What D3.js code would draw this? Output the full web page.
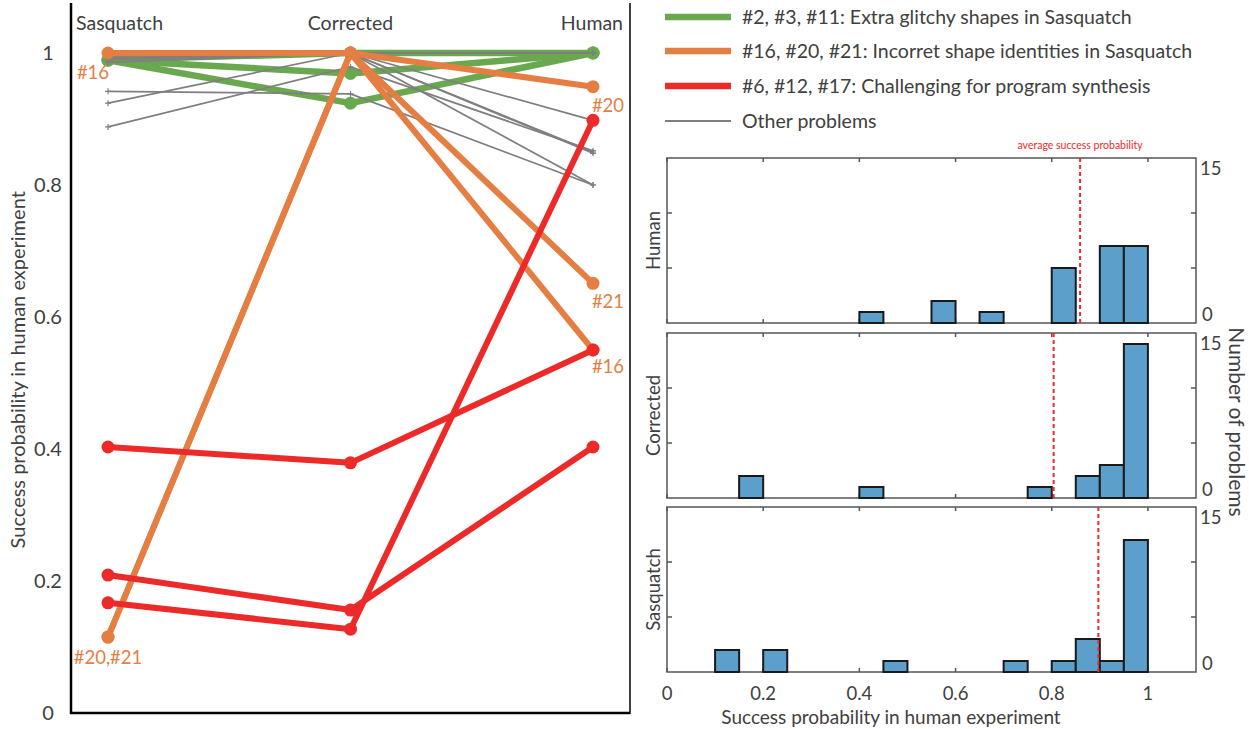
<!DOCTYPE html>
<html>
  <head>
    <meta charset="utf-8">
    <script src="https://cdn.jsdelivr.net/npm/d3@7"></script>
    <style>
      body {
        margin: 0;
        background: #fff;
      }
      text {
        font-family: Lato, "Open Sans", sans-serif;
        fill: #404040;
      }
    </style>
  </head>
<body>
  <script type="text/javascript">
    /*
      Data
    */
    var stages = ["Sasquatch", "Corrected", "Human"];

    // success probability per stage: [Sasquatch, Corrected, Human]
    var greenProblems = [
      [0.990, 1.000, 1.000],
      [0.989, 0.969, 1.000],
      [0.989, 0.924, 1.000]
    ];
    var grayProblems = [
      [0.942, 0.938, 0.800],
      [0.924, 1.000, 0.850],
      [0.888, 0.979, 0.852],
      [0.996, 1.000, 0.898],
      [0.992, 1.000, 0.848],
      [0.986, 1.000, 0.800],
      [1.000, 1.000, 1.000],
      [0.996, 1.000, 1.000],
      [0.992, 1.000, 1.000],
      [0.986, 1.000, 1.000],
      [1.000, 1.000, 1.000],
      [0.990, 1.000, 1.000]
    ];
    var orangeProblems = [   // #16, #20, #21
      [1.000, 1.000, 0.550],
      [0.115, 1.000, 0.949],
      [0.115, 1.000, 0.651]
    ];
    var redProblems = [      // #6, #12, #17
      [0.403, 0.379, 0.550],
      [0.209, 0.156, 0.403],
      [0.167, 0.127, 0.898]
    ];

    var legendLabels = [
      "#2, #3, #11: Extra glitchy shapes in Sasquatch",
      "#16, #20, #21: Incorret shape identities in Sasquatch",
      "#6, #12, #17: Challenging for program synthesis",
      "Other problems"
    ];

    // histograms, 0.05 wide bins from 0 to 1
    var binEdges = [0, 0.05, 0.1, 0.15, 0.2, 0.25, 0.3, 0.35, 0.4, 0.45, 0.5,
                    0.55, 0.6, 0.65, 0.7, 0.75, 0.8, 0.85, 0.9, 0.95, 1];
    var histNames = ["Human", "Corrected", "Sasquatch"];
    var humanCounts     = [0,0,0,0,0,0,0,0,1,0,0,2,0,1,0,0,5,0,7,7];
    var correctedCounts = [0,0,0,2,0,0,0,0,1,0,0,0,0,0,0,1,0,2,3,14];
    var sasquatchCounts = [0,0,2,0,2,0,0,0,0,1,0,0,0,0,1,0,1,3,1,12];
    var histAverages = [0.859, 0.804, 0.897];
    var histXTicks = [0, 0.2, 0.4, 0.6, 0.8, 1];
    var histYTicks = [0, 5, 10, 15];
    var leftYTicks = [0, 0.2, 0.4, 0.6, 0.8, 1];

    var GREEN = "#6aa84f", ORANGE = "#e57e43", RED = "#ec2a2a",
        GRAY = "#7f7f7f", BLUE = "#5b9fca";

    var svg = d3.select("body")
        .append("svg")
        .attr("width", 1249)
        .attr("height", 729);

    /*
      Left panel: slope chart
    */
    var x = d3.scalePoint().domain(stages).range([108, 593]);
    var y = d3.scaleLinear().domain([0, 1]).range([713, 53]);
    var line = d3.line()
        .x(function(d, i) { return x(stages[i]); })
        .y(function(d) { return y(d); });

    var left = svg.append("g");

    left.append("text")
        .attr("x", 76).attr("y", 30)
        .style("font-size", "19.5px")
        .text(stages[0]);
    left.append("text")
        .attr("x", x(stages[1])).attr("y", 30)
        .attr("text-anchor", "middle")
        .style("font-size", "19.5px")
        .text(stages[1]);
    left.append("text")
        .attr("x", 623).attr("y", 30)
        .attr("text-anchor", "end")
        .style("font-size", "19.5px")
        .text(stages[2]);

    function drawGroup(rows, color, width, dots) {
      var g = left.append("g");
      g.selectAll("path")
          .data(rows)
          .enter().append("path")
          .attr("d", line)
          .attr("fill", "none")
          .attr("stroke", color)
          .attr("stroke-width", width)
          .attr("stroke-linejoin", "round");
      rows.forEach(function(r) {
        var pts = g.selectAll(null)
            .data(r)
            .enter();
        if (dots) {
          pts.append("circle")
              .attr("cx", function(d, i) { return x(stages[i]); })
              .attr("cy", function(d) { return y(d); })
              .attr("r", 6.5)
              .attr("fill", color);
        } else {
          // small plus markers on the thin lines
          pts.append("path")
              .attr("d", function(d, i) {
                var cx = x(stages[i]), cy = y(d);
                return "M" + (cx - 3) + "," + cy + "H" + (cx + 3) +
                       "M" + cx + "," + (cy - 3) + "V" + (cy + 3);
              })
              .attr("stroke", color)
              .attr("stroke-width", 1.2);
        }
      });
    }

    drawGroup(greenProblems, GREEN, 6.5, true);
    drawGroup(grayProblems, GRAY, 1.7, false);
    drawGroup(orangeProblems, ORANGE, 6, true);
    drawGroup(redProblems, RED, 6, true);

    // problem labels
    var tags = [
      {t: "#16", stage: 0, v: orangeProblems[0][0], dx: -15, dy: 26},
      {t: "#20,#21", stage: 0, v: orangeProblems[1][0], dx: 0, dy: 27},
      {t: "#20", stage: 2, v: orangeProblems[1][2], dx: 15, dy: 25},
      {t: "#21", stage: 2, v: orangeProblems[2][2], dx: 15, dy: 25},
      {t: "#16", stage: 2, v: orangeProblems[0][2], dx: 15, dy: 23}
    ];
    left.selectAll(".tag")
        .data(tags)
        .enter().append("text")
        .attr("x", function(d) { return x(stages[d.stage]) + d.dx; })
        .attr("y", function(d) { return y(d.v) + d.dy; })
        .attr("text-anchor", "middle")
        .style("font-size", "18.5px")
        .style("fill", ORANGE)
        .text(function(d) { return d.t; });

    // frame and y axis
    var yAxis = d3.axisLeft(y)
        .tickValues(leftYTicks)
        .tickSize(0)
        .tickFormat(function(d) { return (d === 0 || d === 1) ? d : d.toFixed(1); });
    var ya = left.append("g")
        .attr("transform", "translate(71,0)")
        .call(yAxis);
    ya.select(".domain").remove();
    ya.selectAll("text")
        .attr("x", -23)
        .attr("text-anchor", "middle")
        .style("font-size", "20px")
        .style("fill", "#404040");

    left.append("line")
        .attr("x1", 71).attr("x2", 71).attr("y1", 3).attr("y2", 714)
        .attr("stroke", "#000").attr("stroke-width", 2.5);
    left.append("line")
        .attr("x1", 70).attr("x2", 630).attr("y1", 713).attr("y2", 713)
        .attr("stroke", "#000").attr("stroke-width", 2.5);
    left.append("line")
        .attr("x1", 630).attr("x2", 630).attr("y1", 3).attr("y2", 714)
        .attr("stroke", "#000").attr("stroke-width", 1.5);

    left.append("text")
        .attr("transform", "translate(25," + y(0.52) + ") rotate(-90)")
        .attr("text-anchor", "middle")
        .style("font-size", "20px")
        .text("Success probability in human experiment");

    /*
      Legend
    */
    var legendColors = [GREEN, ORANGE, RED, GRAY];
    var legendWidths = [6.5, 6.5, 6.5, 2];
    var legendY = [17, 51, 86, 121];
    var lg = svg.append("g").selectAll("g")
        .data(legendLabels)
        .enter().append("g")
        .attr("transform", function(d, i) { return "translate(0," + legendY[i] + ")"; });
    lg.append("line")
        .attr("x1", 665).attr("x2", 731)
        .attr("stroke", function(d, i) { return legendColors[i]; })
        .attr("stroke-width", function(d, i) { return legendWidths[i]; });
    lg.append("text")
        .attr("x", 742).attr("dy", "0.35em")
        .style("font-size", "19.5px")
        .text(function(d) { return d; });

    /*
      Histograms
    */
    var hx = d3.scaleLinear().domain([0, 1.1]).range([667, 1196]);
    var panelTop = [158, 333, 507];
    var panelH = 165;
    var histCounts = [humanCounts, correctedCounts, sasquatchCounts];

    histNames.forEach(function(name, p) {
      var top = panelTop[p], base = top + panelH;
      var hy = d3.scaleLinear().domain([0, 15]).range([base, top]);
      var g = svg.append("g");
      var counts = histCounts[p];
      var first = counts.findIndex(function(c) { return c > 0; });
      var bins = counts.map(function(c, i) {
        return {x0: binEdges[i], x1: binEdges[i + 1], n: c};
      }).slice(first);

      // box
      g.append("rect")
          .attr("x", hx(0)).attr("y", top)
          .attr("width", hx(1.1) - hx(0)).attr("height", panelH)
          .attr("fill", "none")
          .attr("stroke", "#555").attr("stroke-width", 1.5);

      // ticks, inward
      histXTicks.forEach(function(t) {
        g.append("line").attr("x1", hx(t)).attr("x2", hx(t))
            .attr("y1", top).attr("y2", top + 4)
            .attr("stroke", "#555").attr("stroke-width", 1.5);
        g.append("line").attr("x1", hx(t)).attr("x2", hx(t))
            .attr("y1", base).attr("y2", base - 4)
            .attr("stroke", "#555").attr("stroke-width", 1.5);
      });
      [5, 10].forEach(function(t) {
        g.append("line").attr("x1", hx(0)).attr("x2", hx(0) + 5)
            .attr("y1", hy(t)).attr("y2", hy(t))
            .attr("stroke", "#555").attr("stroke-width", 1.5);
        g.append("line").attr("x1", hx(1.1)).attr("x2", hx(1.1) - 5)
            .attr("y1", hy(t)).attr("y2", hy(t))
            .attr("stroke", "#555").attr("stroke-width", 1.5);
      });

      g.selectAll(".bar")
          .data(bins)
          .enter().append("rect")
          .attr("x", function(d) { return hx(d.x0); })
          .attr("y", function(d) { return hy(d.n); })
          .attr("width", function(d) { return hx(d.x1) - hx(d.x0); })
          .attr("height", function(d) { return hy(0) - hy(d.n); })
          .attr("fill", BLUE)
          .attr("stroke", "#1a1a1a")
          .attr("stroke-width", 2);

      // average line
      g.append("line")
          .attr("x1", hx(histAverages[p])).attr("x2", hx(histAverages[p]))
          .attr("y1", top).attr("y2", base)
          .attr("stroke", RED)
          .attr("stroke-width", 2)
          .attr("stroke-dasharray", "4,3");

      // right-hand count labels
      g.append("text")
          .attr("x", 1200).attr("y", hy(histYTicks[3]) + 11)
          .attr("dy", "0.35em")
          .style("font-size", "18.5px")
          .text(histYTicks[3]);
      g.append("text")
          .attr("x", 1202).attr("y", hy(histYTicks[0]) - 8)
          .attr("dy", "0.35em")
          .style("font-size", "18.5px")
          .text(histYTicks[0]);

      g.append("text")
          .attr("transform", "translate(660," + (top + panelH / 2) + ") rotate(-90)")
          .attr("text-anchor", "middle")
          .style("font-size", "18.5px")
          .text(name);

      if (p === 2) {
        g.selectAll(".xl")
            .data(histXTicks)
            .enter().append("text")
            .attr("x", function(d) { return hx(d); })
            .attr("y", 694)
            .attr("dy", "0.35em")
            .attr("text-anchor", "middle")
            .style("font-size", "18.5px")
            .text(function(d) { return (d === 0 || d === 1) ? d : d.toFixed(1); });
      }
    });

    svg.append("text")
        .attr("x", hx(histAverages[0])).attr("y", 149)
        .attr("text-anchor", "middle")
        .style("font-size", "10.5px")
        .style("fill", RED)
        .text("average success probability");

    svg.append("text")
        .attr("x", 891).attr("y", 724)
        .attr("text-anchor", "middle")
        .style("font-size", "19px")
        .text("Success probability in human experiment");

    svg.append("text")
        .attr("transform", "translate(1229,422) rotate(90)")
        .attr("text-anchor", "middle")
        .style("font-size", "21px")
        .text("Number of problems");
  </script>
</body>
</html>
